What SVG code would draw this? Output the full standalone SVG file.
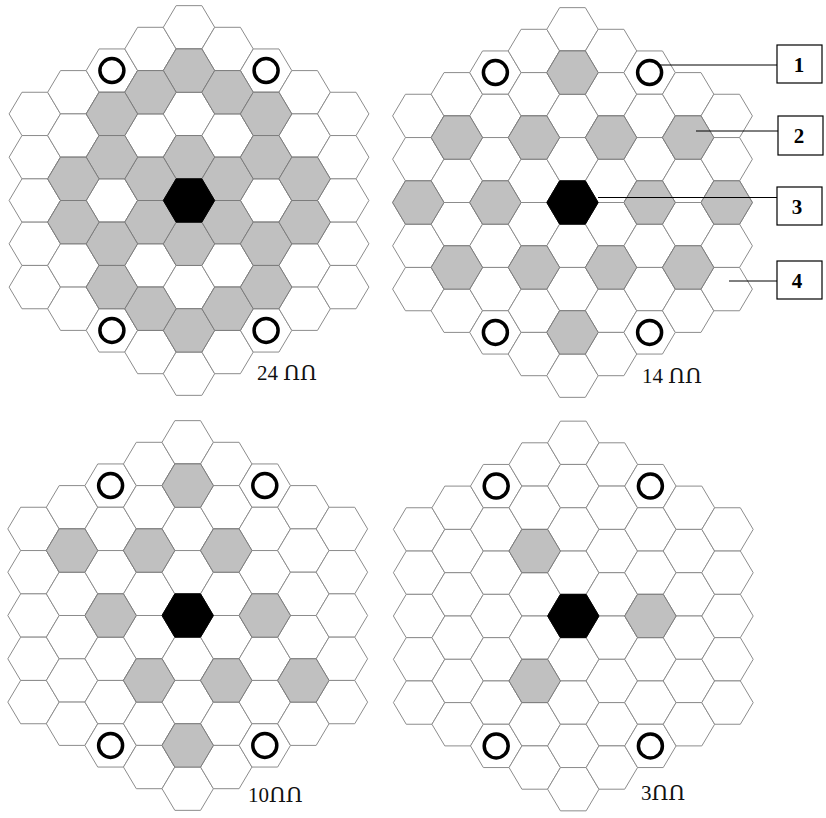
<svg xmlns="http://www.w3.org/2000/svg" xmlns:xlink="http://www.w3.org/1999/xlink" width="826" height="818" viewBox="0 0 826 818">
<style>
.g{fill:#c0c0c0;stroke:#7c7c7c;stroke-width:1}
.b{fill:#000;stroke:#000;stroke-width:1}
.cap{font-family:"Liberation Serif","DejaVu Serif",serif;font-size:21px;fill:#111}
.num{font-family:"Liberation Serif","DejaVu Serif",serif;font-size:21px;font-weight:bold;fill:#000;text-anchor:middle}
.box{fill:#fff;stroke:#000;stroke-width:1.2}
.lead{stroke:#000;stroke-width:1;fill:none}
</style>
<defs>
<polygon id="h" points="-25.7,0 -12.85,-21.65 12.85,-21.65 25.7,0 12.85,21.65 -12.85,21.65"/>
<g id="lattice" fill="#fff" stroke="#8c8c8c" stroke-width="1">
<use href="#h" x="-154.2" y="-86.6"/><use href="#h" x="-154.2" y="-43.3"/><use href="#h" x="-154.2" y="0"/><use href="#h" x="-154.2" y="43.3"/><use href="#h" x="-154.2" y="86.6"/>
<use href="#h" x="-115.65" y="-108.25"/><use href="#h" x="-115.65" y="-64.95"/><use href="#h" x="-115.65" y="-21.65"/><use href="#h" x="-115.65" y="21.65"/><use href="#h" x="-115.65" y="64.95"/><use href="#h" x="-115.65" y="108.25"/>
<use href="#h" x="-77.1" y="-129.9"/><use href="#h" x="-77.1" y="-86.6"/><use href="#h" x="-77.1" y="-43.3"/><use href="#h" x="-77.1" y="0"/><use href="#h" x="-77.1" y="43.3"/><use href="#h" x="-77.1" y="86.6"/><use href="#h" x="-77.1" y="129.9"/>
<use href="#h" x="-38.55" y="-151.55"/><use href="#h" x="-38.55" y="-108.25"/><use href="#h" x="-38.55" y="-64.95"/><use href="#h" x="-38.55" y="-21.65"/><use href="#h" x="-38.55" y="21.65"/><use href="#h" x="-38.55" y="64.95"/><use href="#h" x="-38.55" y="108.25"/><use href="#h" x="-38.55" y="151.55"/>
<use href="#h" x="0" y="-173.2"/><use href="#h" x="0" y="-129.9"/><use href="#h" x="0" y="-86.6"/><use href="#h" x="0" y="-43.3"/><use href="#h" x="0" y="0"/><use href="#h" x="0" y="43.3"/><use href="#h" x="0" y="86.6"/><use href="#h" x="0" y="129.9"/><use href="#h" x="0" y="173.2"/>
<use href="#h" x="38.55" y="-151.55"/><use href="#h" x="38.55" y="-108.25"/><use href="#h" x="38.55" y="-64.95"/><use href="#h" x="38.55" y="-21.65"/><use href="#h" x="38.55" y="21.65"/><use href="#h" x="38.55" y="64.95"/><use href="#h" x="38.55" y="108.25"/><use href="#h" x="38.55" y="151.55"/>
<use href="#h" x="77.1" y="-129.9"/><use href="#h" x="77.1" y="-86.6"/><use href="#h" x="77.1" y="-43.3"/><use href="#h" x="77.1" y="0"/><use href="#h" x="77.1" y="43.3"/><use href="#h" x="77.1" y="86.6"/><use href="#h" x="77.1" y="129.9"/>
<use href="#h" x="115.65" y="-108.25"/><use href="#h" x="115.65" y="-64.95"/><use href="#h" x="115.65" y="-21.65"/><use href="#h" x="115.65" y="21.65"/><use href="#h" x="115.65" y="64.95"/><use href="#h" x="115.65" y="108.25"/>
<use href="#h" x="154.2" y="-86.6"/><use href="#h" x="154.2" y="-43.3"/><use href="#h" x="154.2" y="0"/><use href="#h" x="154.2" y="43.3"/><use href="#h" x="154.2" y="86.6"/>
</g>
<g id="rings" fill="none" stroke="#000" stroke-width="3.5">
<circle cx="-77.1" cy="-129.9" r="12"/><circle cx="77.1" cy="-129.9" r="12"/><circle cx="-77.1" cy="129.9" r="12"/><circle cx="77.1" cy="129.9" r="12"/>
</g>
</defs>
<rect width="826" height="818" fill="#fff"/>

<g id="grid-24" transform="translate(189,200.5)">
<use href="#lattice"/>
<g class="g">
<use href="#h" x="0" y="-129.9"/><use href="#h" x="0" y="-43.3"/><use href="#h" x="0" y="43.3"/><use href="#h" x="0" y="129.9"/>
<use href="#h" x="-38.55" y="-108.25"/><use href="#h" x="-38.55" y="-21.65"/><use href="#h" x="-38.55" y="21.65"/><use href="#h" x="-38.55" y="108.25"/>
<use href="#h" x="38.55" y="-108.25"/><use href="#h" x="38.55" y="-21.65"/><use href="#h" x="38.55" y="21.65"/><use href="#h" x="38.55" y="108.25"/>
<use href="#h" x="-77.1" y="-86.6"/><use href="#h" x="-77.1" y="-43.3"/><use href="#h" x="-77.1" y="43.3"/><use href="#h" x="-77.1" y="86.6"/>
<use href="#h" x="77.1" y="-86.6"/><use href="#h" x="77.1" y="-43.3"/><use href="#h" x="77.1" y="43.3"/><use href="#h" x="77.1" y="86.6"/>
<use href="#h" x="-115.65" y="-21.65"/><use href="#h" x="-115.65" y="21.65"/><use href="#h" x="115.65" y="-21.65"/><use href="#h" x="115.65" y="21.65"/>
</g>
<use href="#h" class="b"/>
<use href="#rings"/>
</g>

<g id="grid-14" transform="translate(572.5,202.5)">
<use href="#lattice"/>
<g class="g">
<use href="#h" x="0" y="-129.9"/><use href="#h" x="0" y="129.9"/>
<use href="#h" x="-38.55" y="-64.95"/><use href="#h" x="38.55" y="-64.95"/><use href="#h" x="-38.55" y="64.95"/><use href="#h" x="38.55" y="64.95"/>
<use href="#h" x="-115.65" y="-64.95"/><use href="#h" x="115.65" y="-64.95"/><use href="#h" x="-115.65" y="64.95"/><use href="#h" x="115.65" y="64.95"/>
<use href="#h" x="-77.1" y="0"/><use href="#h" x="77.1" y="0"/><use href="#h" x="-154.2" y="0"/><use href="#h" x="154.2" y="0"/>
</g>
<use href="#h" class="b"/>
<use href="#rings"/>
</g>

<g id="grid-10" transform="translate(187.7,615.5)">
<use href="#lattice"/>
<g class="g">
<use href="#h" x="0" y="-129.9"/>
<use href="#h" x="-115.65" y="-64.95"/><use href="#h" x="-38.55" y="-64.95"/><use href="#h" x="38.55" y="-64.95"/>
<use href="#h" x="-77.1" y="0"/><use href="#h" x="77.1" y="0"/>
<use href="#h" x="-38.55" y="64.95"/><use href="#h" x="38.55" y="64.95"/><use href="#h" x="115.65" y="64.95"/>
<use href="#h" x="0" y="129.9"/>
</g>
<use href="#h" class="b"/>
<use href="#rings"/>
</g>

<g id="grid-3" transform="translate(573.3,616)">
<use href="#lattice"/>
<g class="g">
<use href="#h" x="-38.55" y="-64.95"/><use href="#h" x="77.1" y="0"/><use href="#h" x="-38.55" y="64.95"/>
</g>
<use href="#h" class="b"/>
<use href="#rings"/>
</g>

<g id="captions">
<text class="cap" x="257" y="380">24 ՈՈ</text>
<text class="cap" x="642" y="383">14 ՈՈ</text>
<text class="cap" x="248" y="801.5">10ՈՈ</text>
<text class="cap" x="641" y="799.5">3ՈՈ</text>
</g>

<g id="connectors">
<line class="lead" x1="659" y1="65" x2="777" y2="65"/>
<line class="lead" x1="696" y1="131" x2="778" y2="131"/>
<line class="lead" x1="598" y1="197.5" x2="777" y2="197.5"/>
<line class="lead" x1="729" y1="281" x2="777" y2="281"/>
</g>

<g id="legend-1"><rect class="box" x="777" y="45" width="45" height="38"/><text class="num" x="799" y="72">1</text></g>
<g id="legend-2"><rect class="box" x="778" y="116" width="45" height="39"/><text class="num" x="799" y="143">2</text></g>
<g id="legend-3"><rect class="box" x="777" y="187" width="45" height="38"/><text class="num" x="797" y="213.5">3</text></g>
<g id="legend-4"><rect class="box" x="777" y="261" width="45" height="38"/><text class="num" x="797" y="288">4</text></g>
</svg>
